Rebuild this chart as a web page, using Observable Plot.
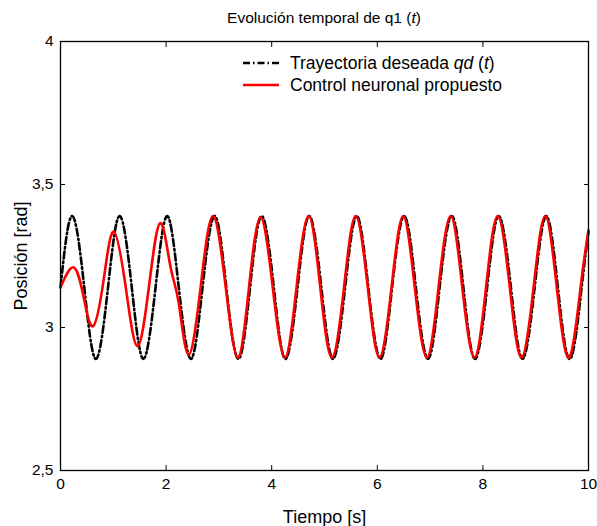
<!DOCTYPE html>
<html>
<head>
<meta charset="utf-8">
<script src="https://cdn.jsdelivr.net/npm/d3@7"></script>
<script src="https://cdn.jsdelivr.net/npm/@observablehq/plot@0.6"></script>
<style>
  body { margin: 0; background: white; }
  #wrap { position: relative; width: 597px; height: 526px; font-family: "Liberation Sans", Arial, Helvetica, sans-serif; }
  #legend { position: absolute; left: 242px; top: 52px; font-size: 17.5px; line-height: 22px; color: black; }
  #legend .row { display: flex; align-items: center; white-space: nowrap; }
  #legend svg { margin-right: 10px; }
</style>
</head>
<body>
<div id="wrap"></div>
<script>
// Desired trajectory qd(t): sample times [s] and positions [rad]
const desiredT = [0.00,0.22,0.45,0.67,0.90,1.12,1.35,1.57,1.80,2.02,2.24,2.47,2.69,2.92,3.14,3.37,3.59,3.81,4.04,4.26,4.49,4.71,4.94,5.16,5.39,5.61,5.83,6.06,6.28,6.51,6.73,6.96,7.18,7.41,7.63,7.85,8.08,8.30,8.53,8.75,8.98,9.20,9.42,9.65,9.87,10.00];
const desiredQ = [3.14,3.39,3.14,2.89,3.14,3.39,3.14,2.89,3.14,3.39,3.14,2.89,3.14,3.39,3.14,2.89,3.14,3.39,3.14,2.89,3.14,3.39,3.14,2.89,3.14,3.39,3.14,2.89,3.14,3.39,3.14,2.89,3.14,3.39,3.14,2.89,3.14,3.39,3.14,2.89,3.14,3.39,3.14,2.89,3.14,3.335];

// Proposed neural control q1(t)
const controlT = [0.00,0.25,0.44,0.62,0.82,1.01,1.24,1.46,1.68,1.89,2.08,2.24,2.43,2.66,2.89,3.13,3.36,3.57,3.79,4.02,4.25,4.47,4.70,4.92,5.14,5.37,5.59,5.82,6.04,6.27,6.49,6.71,6.94,7.16,7.39,7.61,7.84,8.06,8.28,8.51,8.73,8.96,9.18,9.40,9.63,9.85,10.00];
const controlQ = [3.14,3.21,3.105,3.005,3.17,3.335,3.135,2.935,3.15,3.365,3.215,3.085,2.905,3.15,3.39,3.14,2.895,3.14,3.385,3.14,2.895,3.14,3.39,3.14,2.895,3.14,3.39,3.14,2.895,3.14,3.39,3.14,2.895,3.14,3.39,3.14,2.895,3.14,3.39,3.14,2.895,3.14,3.39,3.14,2.895,3.14,3.34];

const xTicks = [0, 2, 4, 6, 8, 10];
const yTicks = [2.5, 3, 3.5, 4];
const yTickLabels = ["2,5", "3", "3,5", "4"];

const titleText = "Evolución temporal de q1 (";
const legendLabels = ["Trayectoria deseada", "Control neuronal propuesto"];

const desired = desiredT.map((t, i) => ({t, q: desiredQ[i]}));
const control = controlT.map((t, i) => ({t, q: controlQ[i]}));

const fmtY = d => yTickLabels[yTicks.indexOf(d)] ?? String(d).replace(".", ",");

const chart = Plot.plot({
  width: 597,
  height: 526,
  marginTop: 41,
  marginBottom: 56,
  marginLeft: 60,
  marginRight: 9,
  style: {fontFamily: "'Liberation Sans', Arial, Helvetica, sans-serif", fontSize: "15px", color: "black", background: "white", overflow: "visible"},
  x: {domain: [0, 10]},
  y: {domain: [2.5, 4]},
  marks: [
    Plot.line(desired, {x: "t", y: "q", stroke: "black", strokeWidth: 2.6, strokeDasharray: "7,3,1.5,3", curve: "natural"}),
    Plot.line(control, {x: "t", y: "q", stroke: "#ff0000", strokeWidth: 2.6, curve: "natural"}),
    Plot.frame({stroke: "black", strokeWidth: 1.3}),
    // tick labels
    Plot.axisX({ticks: xTicks, tickSize: 0, tickPadding: 7, tickFormat: d => String(d), fontSize: 15.5, label: null}),
    Plot.axisY({ticks: yTicks, tickSize: 0, tickPadding: 7, tickFormat: fmtY, fontSize: 15.5, label: null}),
    // axis titles
    Plot.axisX({ticks: [], tickSize: 0, fontSize: 18, label: "Tiempo [s]", labelAnchor: "center", labelOffset: 52, labelArrow: "none"}),
    Plot.axisY({ticks: [], tickSize: 0, fontSize: 18, label: "Posición [rad]", labelAnchor: "center", labelOffset: 46, labelArrow: "none"}),
    // inward ticks on all four sides
    Plot.axisX({ticks: xTicks, tickSize: -5, tickFormat: () => "", label: null}),
    Plot.axisX({anchor: "top", ticks: xTicks, tickSize: -5, tickFormat: () => "", label: null}),
    Plot.axisY({ticks: yTicks, tickSize: -5, tickFormat: () => "", label: null}),
    Plot.axisY({anchor: "right", ticks: yTicks, tickSize: -5, tickFormat: () => "", label: null})
  ]
});

// Title inside the SVG, centered above the frame
const svg = d3.select(chart.tagName.toLowerCase() === "svg" ? chart : chart.querySelector("svg"));
const title = svg.append("text")
  .attr("x", 60 + (597 - 60 - 9) / 2)
  .attr("y", 23)
  .attr("text-anchor", "middle")
  .style("font-size", "15.5px")
  .attr("fill", "black");
title.append("tspan").text(titleText);
title.append("tspan").attr("font-style", "italic").text("t");
title.append("tspan").text(")");

const wrap = document.getElementById("wrap");
wrap.appendChild(chart);

// Legend overlay (inside the axes, no box)
const legend = document.createElement("div");
legend.id = "legend";
legend.innerHTML = `
  <div class="row"><svg width="38" height="10"><line x1="1" y1="5" x2="37" y2="5" stroke="black" stroke-width="2.6" stroke-dasharray="7,3,1.5,3"/></svg>
  <span>${legendLabels[0]} <i>qd</i> (<i>t</i>)</span></div>
  <div class="row"><svg width="38" height="10"><line x1="1" y1="5" x2="37" y2="5" stroke="#ff0000" stroke-width="2.6"/></svg>
  <span>${legendLabels[1]}</span></div>`;
wrap.appendChild(legend);
</script>
</body>
</html>
